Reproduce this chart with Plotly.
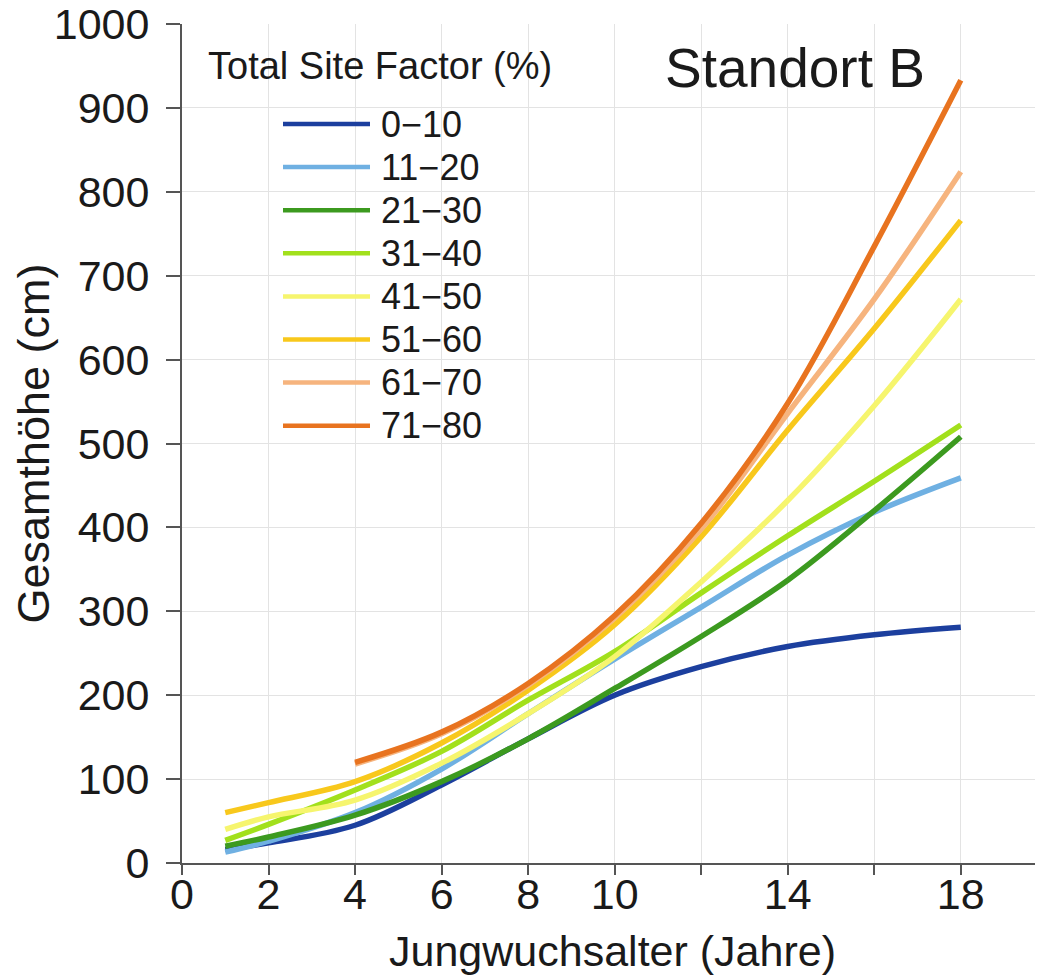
import plotly.graph_objects as go

# ---- data ----
age_full = [1, 2, 4, 6, 8, 10, 12, 14, 16, 18]
age_from4 = [4, 6, 8, 10, 12, 14, 16, 18]

h_0_10 = [16, 24, 45, 93, 148, 200, 234, 258, 272, 281]
h_11_20 = [13, 26, 60, 112, 178, 243, 305, 367, 418, 459]
h_21_30 = [20, 31, 57, 97, 148, 208, 270, 337, 420, 508]
h_31_40 = [27, 46, 87, 133, 194, 252, 322, 390, 455, 522]
h_41_50 = [40, 55, 75, 119, 178, 246, 335, 432, 545, 672]
h_51_60 = [60, 72, 97, 143, 206, 284, 389, 516, 637, 766]
h_61_70 = [118, 154, 212, 292, 398, 536, 672, 824]
h_71_80 = [120, 156, 214, 295, 405, 548, 735, 933]

series = [
    ("0\u221210", age_full, h_0_10, "#1c3f9e"),
    ("11\u221220", age_full, h_11_20, "#6fb0e2"),
    ("21\u221230", age_full, h_21_30, "#3c9a1f"),
    ("31\u221240", age_full, h_31_40, "#a2e01c"),
    ("41\u221250", age_full, h_41_50, "#f6f56e"),
    ("51\u221260", age_full, h_51_60, "#f8c81c"),
    ("61\u221270", age_from4, h_61_70, "#f6b47e"),
    ("71\u221280", age_from4, h_71_80, "#e8731f"),
]

legend_title = "Total Site Factor (%)"
panel_title = "Standort B"

x_tickvals = [0, 2, 4, 6, 8, 10, 12, 14, 16, 18]
x_ticktext = ["0", "2", "4", "6", "8", "10", "", "14", "", "18"]
y_tickvals = [0, 100, 200, 300, 400, 500, 600, 700, 800, 900, 1000]

FONT = "Liberation Sans, Arial, sans-serif"
TXT = "#1a1a1a"

# the page has an 8px body margin; figure coordinates = page coordinates - 8
OFF = 8
W, H = 1043, 976
ML, MT = 182 - OFF, 24 - OFF
MR = W - (1043 - OFF)
MB = H - (863 - OFF)
pw, ph = W - ML - MR, H - MT - MB


def px2paper(xp, yp):
    """page pixel -> paper coordinates"""
    xf, yf = xp - OFF, yp - OFF
    return (xf - ML) / pw, (H - MB - yf) / ph


fig = go.Figure()
for name, xs, ys, col in series:
    fig.add_trace(go.Scatter(
        x=xs, y=ys, mode="lines", name=name, showlegend=False,
        line=dict(color=col, width=5.5, shape="spline", smoothing=1.0),
    ))

annotations = []
shapes = []

tx, ty = px2paper(206, 66)
annotations.append(dict(text=legend_title, x=tx, y=ty, xref="paper", yref="paper",
                        xanchor="left", yanchor="middle", showarrow=False,
                        font=dict(size=38, family=FONT, color=TXT)))
sx, sy = px2paper(795, 68)
annotations.append(dict(text=panel_title, x=sx, y=sy, xref="paper", yref="paper",
                        xanchor="center", yanchor="middle", showarrow=False,
                        font=dict(size=55, family=FONT, color=TXT)))

y0_px, dy_px = 124, 43.1
for i, (name, xs, ys, col) in enumerate(series):
    ypx = y0_px + i * dy_px
    x0p, yp = px2paper(283, ypx)
    x1p, _ = px2paper(370, ypx)
    shapes.append(dict(type="line", xref="paper", yref="paper",
                       x0=x0p, x1=x1p, y0=yp, y1=yp,
                       line=dict(color=col, width=4.5)))
    lx, _ = px2paper(379, ypx)
    annotations.append(dict(text=name, x=lx, y=yp, xref="paper", yref="paper",
                            xanchor="left", yanchor="middle", showarrow=False,
                            font=dict(size=36, family=FONT, color=TXT)))

fig.update_layout(
    width=W, height=H,
    margin=dict(l=ML, r=MR, t=MT, b=MB),
    paper_bgcolor="white", plot_bgcolor="white",
    font=dict(family=FONT, color=TXT),
    showlegend=False,
    annotations=annotations,
    shapes=shapes,
)

fig.update_xaxes(
    range=[0, 19.9], tickvals=x_tickvals, ticktext=x_ticktext,
    automargin=False, ticklabeloverflow="allow",
    showgrid=True, gridcolor="#e3e3e3", gridwidth=1,
    showline=True, linecolor="#555555", linewidth=2,
    ticks="outside", ticklen=10, tickwidth=1.5, tickcolor="#555555",
    tickfont=dict(size=43, family=FONT, color=TXT),
    ticklabelstandoff=-18,
    title=dict(text="Jungwuchsalter (Jahre)", font=dict(size=43, family=FONT, color=TXT), standoff=19),
    zeroline=False,
)
fig.update_yaxes(
    range=[0, 1000], tickvals=y_tickvals,
    automargin=False, ticklabeloverflow="allow",
    showgrid=True, gridcolor="#e3e3e3", gridwidth=1,
    showline=True, linecolor="#555555", linewidth=2,
    ticks="outside", ticklen=14, tickwidth=1.5, tickcolor="#555555",
    tickfont=dict(size=43, family=FONT, color=TXT),
    ticklabelstandoff=8,
    title=dict(text="Gesamthöhe (cm)", font=dict(size=45, family=FONT, color=TXT), standoff=0),
    zeroline=False,
)

fig.write_html("out.html")
